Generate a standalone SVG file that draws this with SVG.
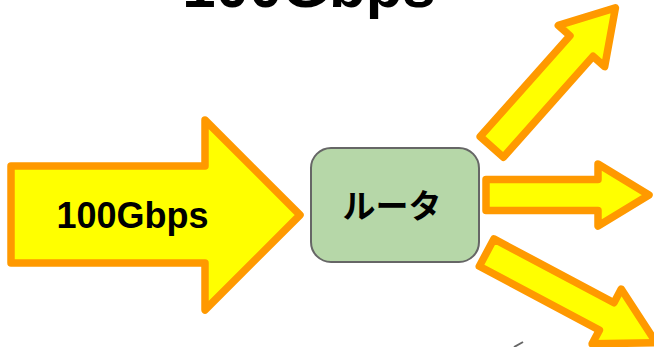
<svg xmlns="http://www.w3.org/2000/svg" width="654" height="347" viewBox="0 0 654 347">
<style>
.arr{fill:#ffff00;stroke:#ff9900;stroke-width:7.5;stroke-linejoin:round}
.lbl{font-family:"Liberation Sans",Arial,sans-serif;font-weight:bold;fill:#000}
.jp{font-family:"Noto Sans CJK JP","Noto Sans",sans-serif;font-weight:bold;fill:#000}
</style>
<rect width="654" height="347" fill="#ffffff"/>
<g id="title">
<text class="lbl" x="309" y="7" font-size="60" text-anchor="middle">100Gbps</text>
</g>
<g id="input">
<polygon class="arr" points="11,166 205,166 205,120 300,215 205,310 205,263 11,263"/>
<text class="lbl" x="132.5" y="228" font-size="36" text-anchor="middle">100Gbps</text>
</g>
<g id="router">
<rect x="311" y="148" width="168" height="114" rx="20" ry="20" fill="#b6d7a8" stroke="#666666" stroke-width="2"/>
<text class="jp" x="392" y="218" font-size="33" text-anchor="middle">ルータ</text>
</g>
<g id="connectors">
<polygon class="arr" transform="translate(491.8,146.9) rotate(-48.35)" points="0,-15.5 135,-15.5 135,-31 186,0 135,31 135,15.5 0,15.5"/>
<polygon class="arr" transform="translate(486,195)" points="0,-15.5 112,-15.5 112,-31 163,0 112,31 112,15.5 0,15.5"/>
<polygon class="arr" transform="translate(486.6,252.6) rotate(28)" points="0,-15.5 136,-15.5 136,-31 192,0 136,31 136,15.5 0,15.5"/>
</g>
<g id="fragment">
<path d="M514,347 L523,342" fill="none" stroke="#666666" stroke-width="2"/>
</g>
</svg>
